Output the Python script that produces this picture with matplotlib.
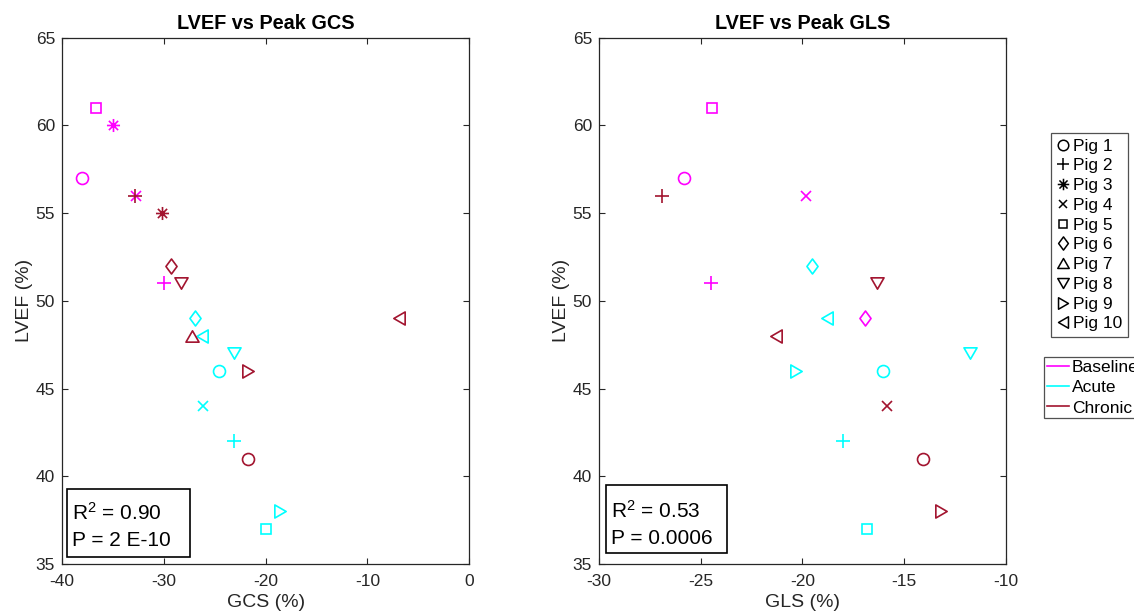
import matplotlib
matplotlib.use("Agg")
import matplotlib.pyplot as plt
from matplotlib.path import Path
from matplotlib.lines import Line2D
from matplotlib.patches import Rectangle

plt.rcParams['font.family'] = ['Liberation Sans', 'DejaVu Sans']
plt.rcParams['mathtext.fontset'] = 'custom'
plt.rcParams['mathtext.rm'] = 'Liberation Sans'
plt.rcParams['mathtext.default'] = 'regular'
plt.rcParams['axes.unicode_minus'] = False

# ---------------- data ----------------
pig_labels = ['Pig 1', 'Pig 2', 'Pig 3', 'Pig 4', 'Pig 5',
              'Pig 6', 'Pig 7', 'Pig 8', 'Pig 9', 'Pig 10']
conditions = ['Baseline', 'Acute', 'Chronic']
cond_colors = ['#FF00FF', '#00FFFF', '#A2142F']

# GCS chart
gcs_base_pig = [1, 5, 3, 4, 2]
gcs_base_x = [-38.0, -36.7, -35.0, -32.7, -30.0]
gcs_base_y = [57, 61, 60, 56, 51]
gcs_acute_pig = [6, 10, 8, 1, 4, 2, 9, 5]
gcs_acute_x = [-26.9, -26.3, -23.1, -24.55, -26.2, -23.1, -18.6, -20.0]
gcs_acute_y = [49, 48, 47, 46, 44, 42, 38, 37]
gcs_chron_pig = [2, 3, 6, 8, 7, 9, 1, 10]
gcs_chron_x = [-32.8, -30.15, -29.25, -28.35, -27.2, -21.7, -21.7, -6.9]
gcs_chron_y = [56, 55, 52, 51, 48, 46, 41, 49]

# GLS chart
gls_base_pig = [1, 5, 4, 2, 6]
gls_base_x = [-25.8, -24.45, -19.8, -24.5, -16.9]
gls_base_y = [57, 61, 56, 51, 49]
gls_acute_pig = [6, 10, 8, 9, 1, 2, 5]
gls_acute_x = [-19.55, -18.8, -11.75, -20.3, -16.05, -18.0, -16.8]
gls_acute_y = [52, 49, 47, 46, 46, 42, 37]
gls_chron_pig = [2, 8, 10, 4, 1, 9]
gls_chron_x = [-26.9, -16.35, -21.3, -15.85, -14.05, -13.2]
gls_chron_y = [56, 51, 48, 44, 41, 38]

gcs_stats = ['R$^2$ = 0.90', 'P = 2 E-10']
gls_stats = ['R$^2$ = 0.53', 'P = 0.0006']

# ---------------- markers ----------------
MV, LT, CL = Path.MOVETO, Path.LINETO, Path.CLOSEPOLY
d = 0.7071
asterisk = Path([(-1, 0), (1, 0), (0, -1), (0, 1), (-d, -d), (d, d), (-d, d), (d, -d)],
                [MV, LT, MV, LT, MV, LT, MV, LT])
def tri(pts):
    return Path(pts + [pts[0]], [MV, LT, LT, CL])
diamond = Path([(0, 1), (0.74, 0), (0, -1), (-0.74, 0), (0, 1)], [MV, LT, LT, LT, CL])
tri_up = tri([(-1, -0.866), (1, -0.866), (0, 0.866)])
tri_down = tri([(-1, 0.866), (1, 0.866), (0, -0.866)])
tri_right = tri([(-0.866, -1), (-0.866, 1), (0.866, 0)])
tri_left = tri([(0.866, -1), (0.866, 1), (-0.866, 0)])

pig_markers = ['o', '+', asterisk, 'x', 's', diamond, tri_up, tri_down, tri_right, tri_left]
pig_msizes = [8.6, 9.4, 9.4, 6.5, 7.2, 10.8, 9.4, 9.4, 9.4, 9.4]

W, H = 1134, 614
fig = plt.figure(figsize=(W / 100, H / 100), dpi=100)

def px(x0, y0, x1, y1):
    return [x0 / W, 1 - y1 / H, (x1 - x0) / W, (y1 - y0) / H]

ax1 = fig.add_axes(px(62, 37.7, 469.3, 564))
ax2 = fig.add_axes(px(599, 37.7, 1005.7, 564))

def draw(ax, series, xlim, xticks, title, xlabel):
    for (pigs, xs, ys), col in zip(series, cond_colors):
        for p, xv, yv in zip(pigs, xs, ys):
            ax.plot([xv], [yv], linestyle='none', marker=pig_markers[p - 1],
                    markersize=pig_msizes[p - 1], markerfacecolor='none',
                    markeredgecolor=col, markeredgewidth=1.2)
    ax.set_xlim(*xlim)
    ax.set_ylim(35, 65)
    ax.set_xticks(xticks)
    ax.set_yticks(range(35, 66, 5))
    ax.tick_params(direction='in', top=True, right=True, length=4.3, width=0.8,
                   labelsize=12.5, colors='#262626')
    ax.tick_params(axis='x', pad=7)
    ax.tick_params(axis='y', pad=5)
    for s in ax.spines.values():
        s.set_linewidth(0.9)
        s.set_color('#262626')
    ax.set_title(title, fontsize=14.3, fontweight='bold', pad=6)
    ax.set_xlabel(xlabel, fontsize=14, labelpad=4, color='#262626')
    ax.set_ylabel('LVEF (%)', fontsize=14, labelpad=2, color='#262626')

draw(ax1, [(gcs_base_pig, gcs_base_x, gcs_base_y),
           (gcs_acute_pig, gcs_acute_x, gcs_acute_y),
           (gcs_chron_pig, gcs_chron_x, gcs_chron_y)],
     (-40, 0), range(-40, 1, 10), 'LVEF vs Peak GCS', 'GCS (%)')
draw(ax2, [(gls_base_pig, gls_base_x, gls_base_y),
           (gls_acute_pig, gls_acute_x, gls_acute_y),
           (gls_chron_pig, gls_chron_x, gls_chron_y)],
     (-30, -10), range(-30, -9, 5), 'LVEF vs Peak GLS', 'GLS (%)')

# stats boxes
def stat_box(x0, y0, x1, y1, tx, b1, b2, lines):
    fig.add_artist(Rectangle((x0 / W, 1 - y1 / H), (x1 - x0) / W, (y1 - y0) / H,
                             transform=fig.transFigure, facecolor='white',
                             edgecolor='black', linewidth=1.2))
    fig.text(tx / W, 1 - b1 / H, lines[0], fontsize=15, va='baseline', ha='left')
    fig.text(tx / W, 1 - b2 / H, lines[1], fontsize=15, va='baseline', ha='left')

stat_box(67.3, 489, 190, 556.7, 71.7, 520, 546, gcs_stats)
stat_box(605.7, 485.3, 726.7, 553.3, 610.7, 517.7, 544, gls_stats)

# legends
pig_handles = [Line2D([], [], linestyle='none', marker=m, markersize=s * 0.88,
                      markerfacecolor='none', markeredgecolor='black', markeredgewidth=1.1)
               for m, s in zip(pig_markers, pig_msizes)]
leg1 = fig.legend(pig_handles, pig_labels, loc='upper left',
                  bbox_to_anchor=(1050.7 / W, 1 - 133.3 / H), fontsize=12.5,
                  frameon=True, fancybox=False, edgecolor='#262626',
                  borderaxespad=0, borderpad=0.3, labelspacing=0.265,
                  handlelength=0.85, handletextpad=0.15)
leg1.get_frame().set_linewidth(0.9)

cond_handles = [Line2D([], [], color=c, linewidth=1.2) for c in cond_colors]
leg2 = fig.legend(cond_handles, conditions, loc='upper left',
                  bbox_to_anchor=(1044 / W, 1 - 356.7 / H), fontsize=12.5,
                  frameon=True, fancybox=False, edgecolor='#262626',
                  borderaxespad=0, borderpad=0.17, labelspacing=0.3,
                  handlelength=1.27, handletextpad=0.17)
leg2.get_frame().set_linewidth(0.9)

fig.savefig('out.png', dpi=100)
